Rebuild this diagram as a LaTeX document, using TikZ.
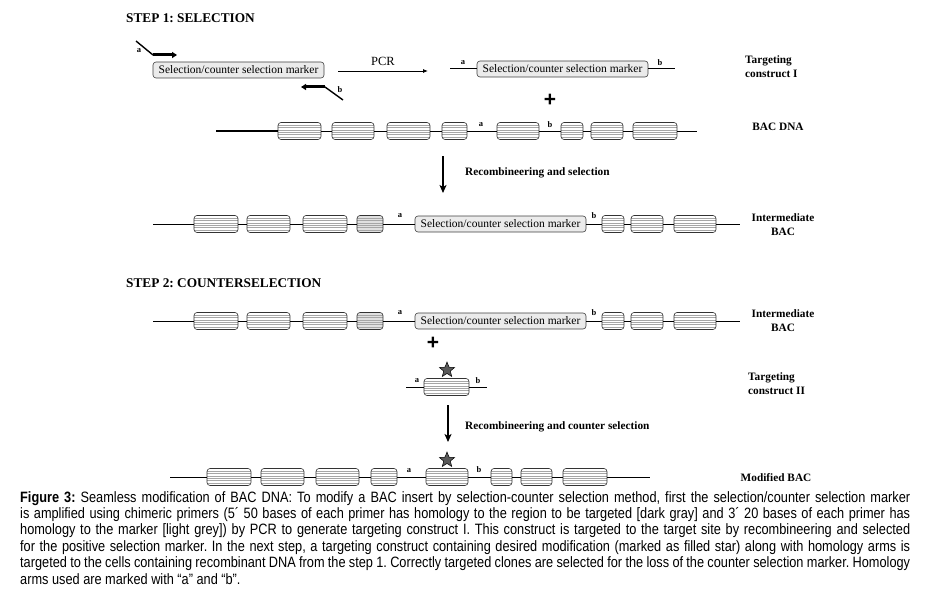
\documentclass[tikz,border=0pt]{standalone}
\usepackage{fontspec}
\setmainfont{Liberation Serif}
\newfontfamily\capfont[FakeStretch=0.85]{Liberation Sans}
\newfontfamily\plusfont{Liberation Sans}
\usetikzlibrary{shapes.geometric,arrows.meta,calc}
\newcommand\exonbox[5][]{\node[exon,#1,minimum width={#4-#3}] (#2) at ({(#3+#4)/2},#5) {};}
\newcommand\capline[1]{\makebox[890pt][s]{#1}}
\frenchspacing
\begin{document}
\frenchspacing
\begin{tikzpicture}[x=1pt,y=-1pt,
  title/.style={font=\fontsize{13.3}{15}\selectfont\bfseries, anchor=west, inner sep=0},
  lbl/.style={font=\fontsize{11.3}{14}\selectfont\bfseries, inner sep=0},
  arm/.style={font=\fontsize{8.5}{10}\selectfont\bfseries, inner sep=0},
  marker/.style={draw=black!75, fill=black!8, rounded corners=3pt, minimum height=16, minimum width=171, inner sep=0, line width=0.6pt, font=\fontsize{11.5}{13}\selectfont},
  stripes/.style={path picture={
    \foreach \f in {1,...,6}{
      \draw[black!35, line width=0.3pt] ([yshift=\f*2.43pt]path picture bounding box.south west) -- ([yshift=\f*2.43pt]path picture bounding box.south east);
    }}},
  exon/.style={draw=black!80, fill=white, rounded corners=3pt, minimum height=17, inner sep=0, line width=0.6pt, stripes},
  dark/.style={fill=black!12},
  dna/.style={line width=1pt},
  primer/.style={line width=1.4pt},
  primerhead/.style={line width=3pt, -{Triangle[length=5pt,width=6pt]}},
  bigarrow/.style={line width=1.6pt, -{Stealth[length=8pt,width=7pt,inset=2pt]}},
  plus/.style={font=\plusfont\fontsize{21}{21}\selectfont\bfseries, inner sep=0},
  starmark/.style={star, star points=5, star point ratio=2.3, minimum size=16, inner sep=0, fill=black!65, draw=black, line width=0.5pt}
]
\useasboundingbox (0,0) rectangle (925,591);

% ---------- STEP 1 ----------
\node[title] (t1) at (126,18) {STEP 1: SELECTION};

% primers + marker
\node[marker] (m0) at (238.5,70) {Selection/counter selection marker};
\coordinate (pa1) at (136,41); \coordinate (pa2) at (153,55); \coordinate (pa3) at (177,55);
\draw[primer] (pa1) -- (pa2);
\draw[primerhead] (pa2) -- (pa3);
\node[arm] (la0) at (139,51) {a};
\coordinate (pb1) at (343,100); \coordinate (pb2) at (325,87); \coordinate (pb3) at (301,87);
\draw[primer] (pb1) -- (pb2);
\draw[primerhead] (pb2) -- (pb3);
\node[arm] (lb0) at (340,90) {b};

% PCR
\coordinate (pcr1) at (338,71); \coordinate (pcr2) at (428,71);
\draw[line width=0.8pt, -{Latex[length=5pt,width=4pt]}] (pcr1) -- (pcr2);
\node[font=\fontsize{12.5}{14}\selectfont, inner sep=0] (pcrl) at (383,61) {PCR};

% targeting construct I
\coordinate (k0) at (450,69);
\node[marker] (m1) at (562.5,69) {Selection/counter selection marker};
\coordinate (k1) at (675,69);
\draw[dna] (k0) -- (m1) -- (k1);
\node[arm] (la1) at (463,63) {a};
\node[arm] (lb1) at (660,63) {b};
\node[lbl, align=left, anchor=west] (tc1) at (745,67) {Targeting\\construct I};
\node[plus] (p1) at (550,100) {+};

% BAC DNA
\coordinate (b0) at (216,131);
\exonbox{b1}{278}{321}{131}
\exonbox{b2}{332}{374}{131}
\exonbox{b3}{387}{430}{131}
\exonbox{b4}{442}{467}{131}
\exonbox{b5}{497}{539}{131}
\exonbox{b6}{561}{583}{131}
\exonbox{b7}{591}{623}{131}
\exonbox{b8}{633}{677}{131}
\coordinate (b9) at (697,131);
\draw[line width=1.8pt] (b0) -- (b1);
\draw[dna] (b1) -- (b2) -- (b3) -- (b4) -- (b5) -- (b6) -- (b7) -- (b8) -- (b9);
\node[arm] (la2) at (481,125) {a};
\node[arm] (lb2) at (550,125) {b};
\node[lbl] (bac) at (778,127) {BAC DNA};

% arrow 1
\coordinate (a1s) at (443,156); \coordinate (a1e) at (443,193);
\draw[bigarrow] (a1s) -- (a1e);
\node[lbl, anchor=west] (r1) at (465,173) {Recombineering and selection};

% Intermediate BAC (step 1)
\coordinate (c0) at (153,224);
\exonbox{c1}{194}{238}{224}
\exonbox{c2}{247}{290}{224}
\exonbox{c3}{303}{347}{224}
\exonbox[dark]{c4}{357}{383}{224}
\node[marker] (cm) at (500.5,224) {Selection/counter selection marker};
\exonbox{c5}{602}{624}{224}
\exonbox{c6}{631}{663}{224}
\exonbox{c7}{674}{716}{224}
\coordinate (c8) at (740,224);
\draw[dna] (c0) -- (c1) -- (c2) -- (c3) -- (c4) -- (cm) -- (c5) -- (c6) -- (c7) -- (c8);
\node[arm] (la3) at (400,216) {a};
\node[arm] (lb3) at (594,216) {b};
\node[lbl, align=center] (ib1) at (783,225) {Intermediate\\BAC};

% ---------- STEP 2 ----------
\node[title] (t2) at (126,283) {STEP 2: COUNTERSELECTION};

\coordinate (d0) at (153,321);
\exonbox{d1}{194}{238}{321}
\exonbox{d2}{247}{290}{321}
\exonbox{d3}{303}{347}{321}
\exonbox[dark]{d4}{357}{383}{321}
\node[marker] (dm) at (500.5,321) {Selection/counter selection marker};
\exonbox{d5}{602}{624}{321}
\exonbox{d6}{631}{663}{321}
\exonbox{d7}{674}{716}{321}
\coordinate (d8) at (740,321);
\draw[dna] (d0) -- (d1) -- (d2) -- (d3) -- (d4) -- (dm) -- (d5) -- (d6) -- (d7) -- (d8);
\node[arm] (la4) at (400,313) {a};
\node[arm] (lb4) at (594,313) {b};
\node[lbl, align=center] (ib2) at (783,321) {Intermediate\\BAC};
\node[plus] (p2) at (433,343) {+};

% targeting construct II
\coordinate (e0) at (406,387);
\exonbox{e1}{424}{469}{387}
\coordinate (e2) at (487,387);
\draw[dna] (e0) -- (e1) -- (e2);
\node[starmark] (s1) at (447,370) {};
\node[arm] (la5) at (417,381) {a};
\node[arm] (lb5) at (478,381) {b};
\node[lbl, align=left, anchor=west] (tc2) at (748,384) {Targeting\\construct II};

% arrow 2
\coordinate (a2s) at (448,405); \coordinate (a2e) at (448,442);
\draw[bigarrow] (a2s) -- (a2e);
\node[lbl, anchor=west] (r2) at (465,427) {Recombineering and counter selection};

% Modified BAC
\coordinate (f0) at (170,477);
\exonbox{f1}{207}{251}{477}
\exonbox{f2}{261}{304}{477}
\exonbox{f3}{316}{359}{477}
\exonbox{f4}{371}{397}{477}
\exonbox{f5}{426}{468}{477}
\exonbox{f6}{491}{512}{477}
\exonbox{f7}{521}{552}{477}
\exonbox{f8}{563}{607}{477}
\coordinate (f9) at (650,477);
\draw[dna] (f0) -- (f1) -- (f2) -- (f3) -- (f4) -- (f5) -- (f6) -- (f7) -- (f8) -- (f9);
\node[starmark] (s2) at (447,460) {};
\node[arm] (la6) at (409,471) {a};
\node[arm] (lb6) at (479,470) {b};
\node[lbl] (mod) at (776,478) {Modified BAC};

% caption
\node[anchor=north west, inner sep=0, align=left, font=\capfont\fontsize{15}{16.4}\selectfont] (cap) at (20,491) {%
\capline{\textbf{Figure 3:} Seamless modification of BAC DNA: To modify a BAC insert by selection-counter selection method, first the selection/counter selection marker}\\
\capline{is amplified using chimeric primers (5´ 50 bases of each primer has homology to the region to be targeted [dark gray] and 3´ 20 bases of each primer has}\\
\capline{homology to the marker [light grey]) by PCR to generate targeting construct I. This construct is targeted to the target site by recombineering and selected}\\
\capline{for the positive selection marker. In the next step, a targeting construct containing desired modification (marked as filled star) along with homology arms is}\\
\capline{targeted to the cells containing recombinant DNA from the step 1. Correctly targeted clones are selected for the loss of the counter selection marker. Homology}\\
arms used are marked with “a” and “b”.};
\end{tikzpicture}
\end{document}
